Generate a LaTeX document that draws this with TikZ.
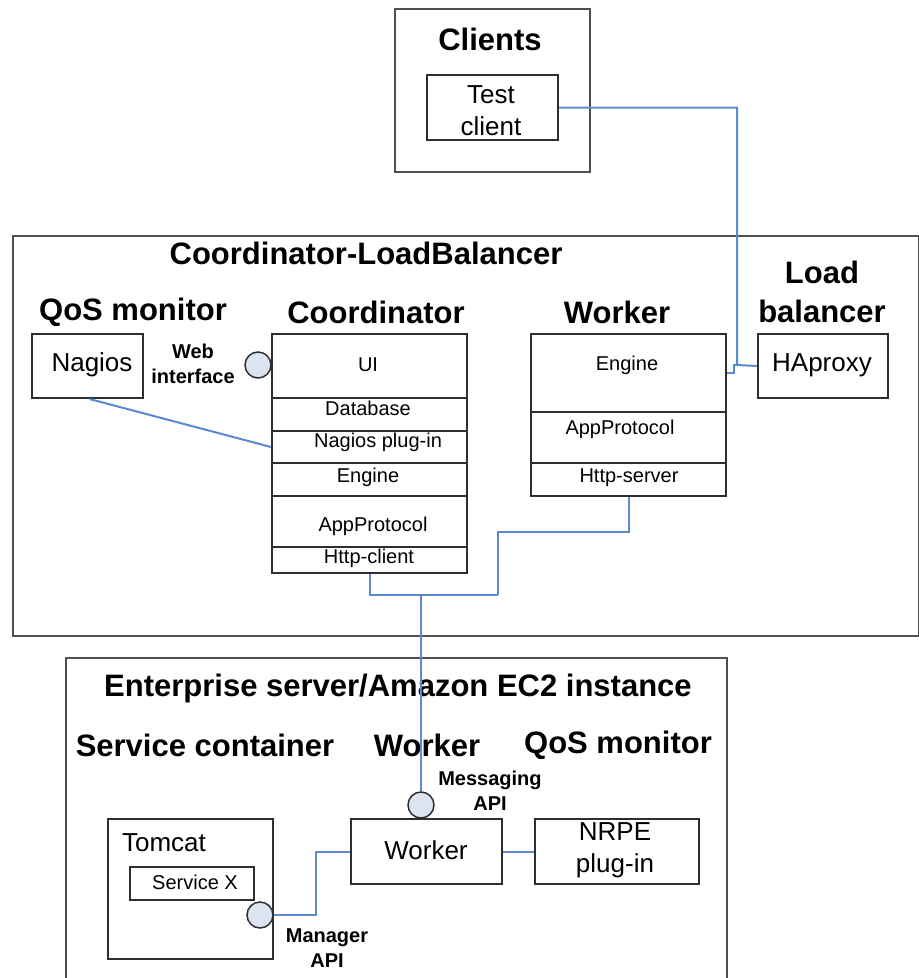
\documentclass[tikz,border=0pt]{standalone}
\usepackage{fontspec}
\setmainfont{Liberation Sans}
\definecolor{conn}{HTML}{5B8AD2}
\definecolor{bord}{HTML}{2E2E2E}
\definecolor{frm}{HTML}{505050}
\definecolor{circ}{HTML}{DCE4F2}
\tikzset{
 title/.style={font=\fontsize{31}{39}\selectfont\bfseries, align=center, inner sep=0},
 boxtext/.style={font=\fontsize{26}{32}\selectfont, align=center, inner sep=0},
 rowtext/.style={font=\fontsize{20}{24}\selectfont, inner sep=0},
 lbl/.style={font=\fontsize{20}{25}\selectfont\bfseries, align=center, inner sep=0},
 frame/.style={draw=frm, line width=2pt, rectangle, anchor=north west, inner sep=0},
 box/.style={draw=bord, line width=2pt, rectangle, anchor=north west, inner sep=0},
 iface/.style={circle, draw=bord, line width=1.5pt, fill=circ, minimum size=26pt, inner sep=0},
 wire/.style={draw=conn, line width=2pt},
}
\begin{document}
\begin{tikzpicture}[x=1pt,y=-1pt]
\useasboundingbox (0,0) rectangle (919,978);
\clip (0,0) rectangle (919,978);
% frames
\node[frame, minimum width=195pt, minimum height=163pt] (clients) at (394,8) {};
\node[frame, minimum width=906pt, minimum height=400pt] (clb) at (12,235) {};
\node[frame, minimum width=661pt, minimum height=420pt] (ent) at (65,657) {};
% titles
\node[title] (tclients) at (490,39) {Clients};
\node[title] (tclb) at (366,253) {Coordinator-LoadBalancer};
\node[title] (tqos) at (133,312) {QoS monitor};
\node[title] (tcoord) at (376,312) {Coordinator};
\node[title] (tworker) at (617,312) {Worker};
\node[title] (tlb) at (822,292) {Load\\balancer};
\node[title] (tent) at (398,688) {Enterprise server/Amazon EC2 instance};
\node[title] (tsc) at (205,745) {Service container};
\node[title] (tw2) at (427,745) {Worker};
\node[title] (tqos2) at (618,745) {QoS monitor};
% clients
\node[box, minimum width=131pt, minimum height=65pt] (tc) at (426,74) {};
\node[boxtext] (tctext) at (491,111) {Test\\client};
% QoS monitor
\node[box, minimum width=111pt, minimum height=64pt] (nag) at (31,333) {};
\node[boxtext] (nagtext) at (92,365) {Nagios};
% coordinator stack
\node[box, minimum width=195pt, minimum height=64pt] (cui) at (271,333) {};
\node[box, minimum width=195pt, minimum height=33pt] (cdb) at (271,397) {};
\node[box, minimum width=195pt, minimum height=32pt] (cplug) at (271,430) {};
\node[box, minimum width=195pt, minimum height=33pt] (ceng) at (271,462) {};
\node[box, minimum width=195pt, minimum height=51pt] (capp) at (271,495) {};
\node[box, minimum width=195pt, minimum height=26pt] (chttp) at (271,546) {};
\node[rowtext] (cuit) at (368,365) {UI};
\node[rowtext] (cdbt) at (368,408) {Database};
\node[rowtext] (cplugt) at (378,442) {Nagios plug-in};
\node[rowtext] (cengt) at (368,477) {Engine};
\node[rowtext] (cappt) at (373,526) {AppProtocol};
\node[rowtext] (chttpt) at (369,558) {Http-client};
\node[iface] (web) at (258,365) {};
\node[lbl] (webt) at (193,364) {Web\\interface};
% worker stack
\node[box, minimum width=195pt, minimum height=78pt] (weng) at (530,333) {};
\node[box, minimum width=195pt, minimum height=51pt] (wapp) at (530,411) {};
\node[box, minimum width=195pt, minimum height=33pt] (whttp) at (530,462) {};
\node[rowtext] (wengt) at (627,365) {Engine};
\node[rowtext] (wappt) at (620,429) {AppProtocol};
\node[rowtext] (whttpt) at (629,478) {Http-server};
% load balancer
\node[box, minimum width=130pt, minimum height=64pt] (hap) at (757,333) {};
\node[boxtext] (hapt) at (822,365) {HAproxy};
% bottom
\node[box, minimum width=165pt, minimum height=140pt] (tom) at (107,818) {};
\node[boxtext] (tomt) at (164,843) {Tomcat};
\node[box, minimum width=124pt, minimum height=33pt] (svc) at (129,866) {};
\node[rowtext] (svct) at (195,882) {Service X};
\node[iface] (mgr) at (260,915) {};
\node[lbl] (mgrt) at (327,948) {Manager\\API};
\node[box, minimum width=151pt, minimum height=65pt] (wk) at (350,818) {};
\node[boxtext] (wkt) at (426,850) {Worker};
\node[iface] (msg) at (421,805) {};
\node[lbl] (msgt) at (490,791) {Messaging\\API};
\node[box, minimum width=164pt, minimum height=65pt] (nrpe) at (534,818) {};
\node[boxtext] (nrpet) at (615,850) {NRPE\\plug-in};
% connectors
\coordinate (j1) at (737,365);
\coordinate (j3) at (498,595);
\coordinate (j2) at (421,595);
\draw[wire] (tc.east) -| (j1) -- (hap.west);
\draw[wire] (weng.east) -- ++(7,0) |- (j1);
\draw[wire] ([xshift=2pt]nag.south) -- (cplug.west);
\draw[wire] (chttp.south) |- (j3);
\draw[wire] (whttp.south) -- ++(0,35) -| (j3);
\draw[wire] (j2) -- (msg.north);
\draw[wire] (mgr.east) -- ++(42,0) |- (wk.west);
\draw[wire] (wk.east) -- (nrpe.west);
\end{tikzpicture}
\end{document}
